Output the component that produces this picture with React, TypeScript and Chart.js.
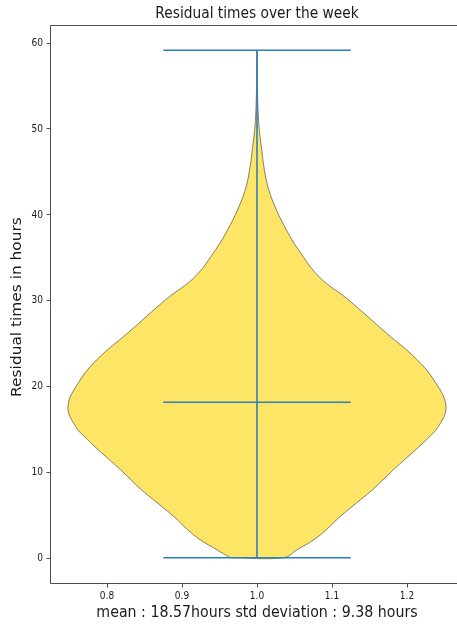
import React, { useEffect, useRef } from "react";
import { Chart, registerables } from "chart.js";

Chart.register(...registerables);

const TITLE = "Residual times over the week";
const X_LABEL = "mean : 18.57hours std deviation : 9.38 hours";
const Y_LABEL = "Residual times in hours";
const X_TICKS = [0.8, 0.9, 1.0, 1.1, 1.2];
const X_TICK_LABELS = ["0.8", "0.9", "1.0", "1.1", "1.2"];
const Y_TICKS = [0, 10, 20, 30, 40, 50, 60];
const Y_TICK_LABELS = ["0", "10", "20", "30", "40", "50", "60"];

const POSITION = 1.0;
const DATA_MIN = 0;
const DATA_MAX = 59.1;
const CENTER_VALUE = 18.1;
const CAP_HALF_WIDTH = 0.125;

// violin outline: value levels and half-widths
const VIOLIN_Y = [0, 0.9, 2.1, 3.3, 4.8, 6.75, 7.9, 10.25, 12.6, 13.75, 15.3, 17.6, 20.4, 23.1, 26.2, 30.1, 32.7, 35.9, 38.2, 40.5, 42.9, 45.2, 47.55, 49.5, 51.4, 54.0, 57.0, 59.1];
const VIOLIN_HW = [0.036, 0.053, 0.076, 0.093, 0.111, 0.138, 0.154, 0.182, 0.212, 0.226, 0.242, 0.252, 0.238, 0.213, 0.172, 0.121, 0.083, 0.055, 0.039, 0.026, 0.0155, 0.0098, 0.0062, 0.0035, 0.0018, 0.0008, 0.0003, 0.0001];

const LINE_COLOR = "#2f7fb8";
const FILL_COLOR = "#fee566";
const EDGE_COLOR = "rgba(120,115,85,0.9)";
const TEXT_COLOR = "#1a1a1a";
const SPINE_COLOR = "#4d4d4d";
const FONT = "'DejaVu Sans', sans-serif";
const SQUEEZE = 0.86;

function drawText(ctx: CanvasRenderingContext2D, text: string, x: number, y: number, size: number, align: CanvasTextAlign, rotate = false) {
  ctx.save();
  ctx.translate(x, y);
  ctx.scale(SQUEEZE, 1);
  if (rotate) ctx.rotate(-Math.PI / 2);
  ctx.font = `${size}px ${FONT}`;
  ctx.fillStyle = TEXT_COLOR;
  ctx.textAlign = align;
  ctx.textBaseline = "middle";
  ctx.fillText(text, 0, 0);
  ctx.restore();
}

const decorPlugin = {
  id: "decor",
  afterDraw(chart: any) {
    const ctx: CanvasRenderingContext2D = chart.ctx;
    const { left, right, top, bottom } = chart.chartArea;
    const xs = chart.scales.x;
    const ys = chart.scales.y;
    ctx.save();
    ctx.strokeStyle = SPINE_COLOR;
    ctx.lineWidth = 1;
    ctx.beginPath();
    ctx.moveTo(right + 5, top + 0.5);
    ctx.lineTo(left + 0.5, top + 0.5);
    ctx.lineTo(left + 0.5, bottom + 0.5);
    ctx.lineTo(right + 5, bottom + 0.5);
    ctx.stroke();
    ctx.beginPath();
    Y_TICKS.forEach((v) => {
      const py = Math.round(ys.getPixelForValue(v)) + 0.5;
      ctx.moveTo(left + 0.5, py);
      ctx.lineTo(left - 3.5, py);
    });
    X_TICKS.forEach((v) => {
      const px = Math.round(xs.getPixelForValue(v)) + 0.5;
      ctx.moveTo(px, bottom + 0.5);
      ctx.lineTo(px, bottom + 4.5);
    });
    ctx.stroke();
    ctx.restore();

    Y_TICKS.forEach((v, i) => {
      drawText(ctx, Y_TICK_LABELS[i], left - 7, ys.getPixelForValue(v) + 0.5, 10.5, "right");
    });
    X_TICKS.forEach((v, i) => {
      drawText(ctx, X_TICK_LABELS[i], xs.getPixelForValue(v), bottom + 13, 10.5, "center");
    });
    const cx = xs.getPixelForValue(POSITION);
    drawText(ctx, TITLE, cx, 14, 16, "center");
    drawText(ctx, X_LABEL, cx, 613, 16.5, "center");
    drawText(ctx, Y_LABEL, 18, (top + bottom) / 2 + 3, 15.4, "center", true);
  },
};

export default function App() {
  const ref = useRef<HTMLCanvasElement | null>(null);
  useEffect(() => {
    document.body.style.margin = "0";
    const outline: { x: number; y: number }[] = [];
    for (let i = 0; i < VIOLIN_Y.length; i++) outline.push({ x: POSITION - VIOLIN_HW[i], y: VIOLIN_Y[i] });
    for (let i = VIOLIN_Y.length - 1; i >= 0; i--) outline.push({ x: POSITION + VIOLIN_HW[i], y: VIOLIN_Y[i] });
    outline.push({ x: POSITION - VIOLIN_HW[0], y: VIOLIN_Y[0] });

    const lineDs = (data: { x: number; y: number }[]) => ({
      data,
      showLine: true,
      borderColor: LINE_COLOR,
      borderWidth: 1.6,
      pointRadius: 0,
      fill: false,
      order: 1,
    });

    const chart = new Chart(ref.current as HTMLCanvasElement, {
      type: "scatter",
      data: {
        datasets: [
          lineDs([{ x: POSITION, y: DATA_MIN }, { x: POSITION, y: DATA_MAX }]),
          lineDs([{ x: POSITION - CAP_HALF_WIDTH, y: DATA_MIN }, { x: POSITION + CAP_HALF_WIDTH, y: DATA_MIN }]),
          lineDs([{ x: POSITION - CAP_HALF_WIDTH, y: DATA_MAX }, { x: POSITION + CAP_HALF_WIDTH, y: DATA_MAX }]),
          lineDs([{ x: POSITION - CAP_HALF_WIDTH, y: CENTER_VALUE }, { x: POSITION + CAP_HALF_WIDTH, y: CENTER_VALUE }]),
          {
            data: outline,
            showLine: true,
            borderColor: EDGE_COLOR,
            borderWidth: 1,
            backgroundColor: FILL_COLOR,
            fill: "shape",
            tension: 0.4,
            pointRadius: 0,
            order: 2,
          } as any,
        ],
      },
      options: {
        animation: false,
        responsive: false,
        events: [],
        layout: { padding: { left: 50, top: 25, bottom: 41, right: 0 } },
        plugins: { legend: { display: false }, tooltip: { enabled: false }, title: { display: false } },
        scales: {
          x: { type: "linear", min: 0.724, max: 1.2667, display: false },
          y: { type: "linear", min: -2.95, max: 62.05, display: false },
        },
      },
      plugins: [decorPlugin],
    });
    return () => chart.destroy();
  }, []);
  return (
    <div style={{ position: "absolute", left: 0, top: 0, width: 457, height: 624, background: "#fff" }}>
      <canvas ref={ref} width={457} height={624} style={{ display: "block" }} />
    </div>
  );
}
